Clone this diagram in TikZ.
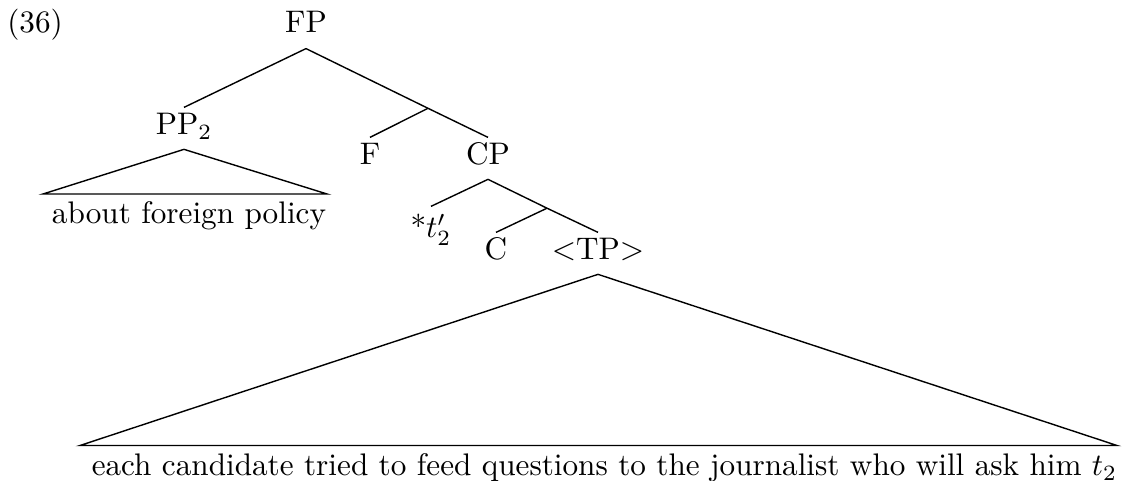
\documentclass[tikz,border=0pt]{standalone}
\begin{document}
\begin{tikzpicture}[x=0.3205pt,y=-0.3205pt,
  lab/.style={anchor=base,inner sep=0pt,text height=8.65pt,text depth=4.4pt},
  plain/.style={anchor=base,inner sep=0pt},
  branch/.style={line width=0.45pt}]
\useasboundingbox (0,0) rectangle (1126,481);
\node[plain] (ex) at (35,33) {(36)};
\node[plain,text depth=4.8pt] (FP) at (306,33) {FP};
\node[lab] (PP) at (184,135) {PP$_2$};
\coordinate (Fbar) at (428,108.3);
\node[lab] (F) at (370,165) {F};
\node[lab] (CP) at (488,165) {CP};
\node[lab,text height=9.94pt] (t) at (431,238) {*$t'_2$};
\coordinate (Cbar) at (547,208.2);
\node[lab] (C) at (496,260) {C};
\node[lab] (TP) at (598,260) {$<$TP$>$};
\coordinate (ppL) at (43,194);
\coordinate (ppR) at (327,194);
\node[plain] (pptext) at (189,224) {about foreign policy};
\coordinate (tpL) at (80,445.5);
\coordinate (tpR) at (1117,445.5);
\node[plain] (tptext) at (604.5,476) {each candidate tried to feed questions to the journalist who will ask him $t_2$};
\draw[branch] (FP.south) -- (PP.north);
\draw[branch] (FP.south) -- (Fbar);
\draw[branch] (Fbar) -- (F.north);
\draw[branch] (Fbar) -- (CP.north);
\draw[branch] (CP.south) -- (t.north);
\draw[branch] (CP.south) -- (Cbar);
\draw[branch] (Cbar) -- (C.north);
\draw[branch] (Cbar) -- (TP.north);
\draw[branch] (PP.south) -- (ppL) -- (ppR) -- cycle;
\draw[branch] (TP.south) -- (tpL) -- (tpR) -- cycle;
\end{tikzpicture}
\end{document}
